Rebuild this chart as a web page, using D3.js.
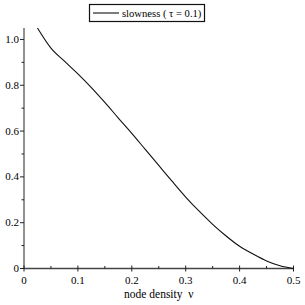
<!DOCTYPE html>
<html><head><meta charset="utf-8">
<script src="https://cdn.jsdelivr.net/npm/d3@7"></script>
<style>body{margin:0;background:#fff}svg{display:block}</style>
</head><body>
<svg id="c" width="305" height="305"></svg>
<script>
const xVals = [0.025,0.05,0.075,0.1,0.125,0.15,0.175,0.2,0.225,0.25,0.275,0.3,0.325,0.35,0.375,0.4,0.425,0.45,0.475,0.5];
const slowness = [1.05,0.962,0.905,0.85,0.79,0.725,0.657,0.59,0.52,0.45,0.38,0.312,0.25,0.193,0.142,0.097,0.063,0.033,0.012,0.0];
const xTicks = [0,0.1,0.2,0.3,0.4,0.5];
const yTicks = [0,0.2,0.4,0.6,0.8,1.0];
const yTickLabels = ["0","0.2","0.4","0.6","0.8","1.0"];
const xMinor = [0.05,0.15,0.25,0.35,0.45];
const yMinor = [0.1,0.3,0.5,0.7,0.9];
const legendLabel = "slowness ( \u03c4 = 0.1)";
const xLabel = "node density  \u03bd";

const FONT = "Liberation Serif";
const svg = d3.select("#c");
const x = d3.scaleLinear().domain([0,0.5]).range([24,293.5]);
const y = d3.scaleLinear().domain([0,1.05]).range([268.5,28]);

svg.append("line").attr("x1",x(0)).attr("x2",x(0)).attr("y1",y(0)).attr("y2",y(1.05))
  .attr("stroke","#777").attr("stroke-width",1.6);
svg.append("line").attr("x1",x(0)).attr("x2",x(0.5)).attr("y1",y(0)).attr("y2",y(0))
  .attr("stroke","#444").attr("stroke-width",1.4);

svg.selectAll(".xt").data(xTicks).enter().append("line")
  .attr("x1",d=>x(d)).attr("x2",d=>x(d)).attr("y1",y(0)-3).attr("y2",y(0)+3)
  .attr("stroke","#222").attr("stroke-width",1);
svg.selectAll(".xm").data(xMinor).enter().append("line")
  .attr("x1",d=>x(d)).attr("x2",d=>x(d)).attr("y1",y(0)-2.5).attr("y2",y(0))
  .attr("stroke","#222").attr("stroke-width",1);
svg.selectAll(".xl").data(xTicks).enter().append("text")
  .attr("x",d=>x(d)).attr("y",y(0)+15).attr("text-anchor","middle")
  .attr("font-family",FONT).attr("font-size",11).text(d=>d===0?"0":d3.format(".1f")(d));

svg.selectAll(".yt").data(yTicks).enter().append("line")
  .attr("x1",x(0)-4).attr("x2",x(0)).attr("y1",d=>y(d)).attr("y2",d=>y(d))
  .attr("stroke","#222").attr("stroke-width",1);
svg.selectAll(".ym").data(yMinor).enter().append("line")
  .attr("x1",x(0)-2.5).attr("x2",x(0)).attr("y1",d=>y(d)).attr("y2",d=>y(d))
  .attr("stroke","#222").attr("stroke-width",1);
svg.selectAll(".yl").data(yTicks).enter().append("text")
  .attr("x",x(0)-5).attr("y",d=>y(d)+3.5).attr("text-anchor","end")
  .attr("font-family",FONT).attr("font-size",11).text((d,i)=>yTickLabels[i]);

const line = d3.line().x((d,i)=>x(xVals[i])).y(d=>y(d)).curve(d3.curveMonotoneX);
svg.append("path").datum(slowness).attr("d",line).attr("fill","none")
  .attr("stroke","#111").attr("stroke-width",1.1);

svg.append("text").attr("x",(x(0)+x(0.5))/2).attr("y",298).attr("text-anchor","middle")
  .attr("font-family",FONT).attr("font-size",11.5).attr("xml:space","preserve").text(xLabel);

const lg = svg.append("g");
lg.append("rect").attr("x",89.5).attr("y",4.5).attr("width",115).attr("height",17)
  .attr("fill","#fff").attr("stroke","#111").attr("stroke-width",1.2);
lg.append("line").attr("x1",93).attr("x2",119).attr("y1",13).attr("y2",13)
  .attr("stroke","#111").attr("stroke-width",1.1);
lg.append("text").attr("x",122).attr("y",16.5).attr("font-family",FONT).attr("font-size",10.6).text(legendLabel);
</script>
</body></html>
